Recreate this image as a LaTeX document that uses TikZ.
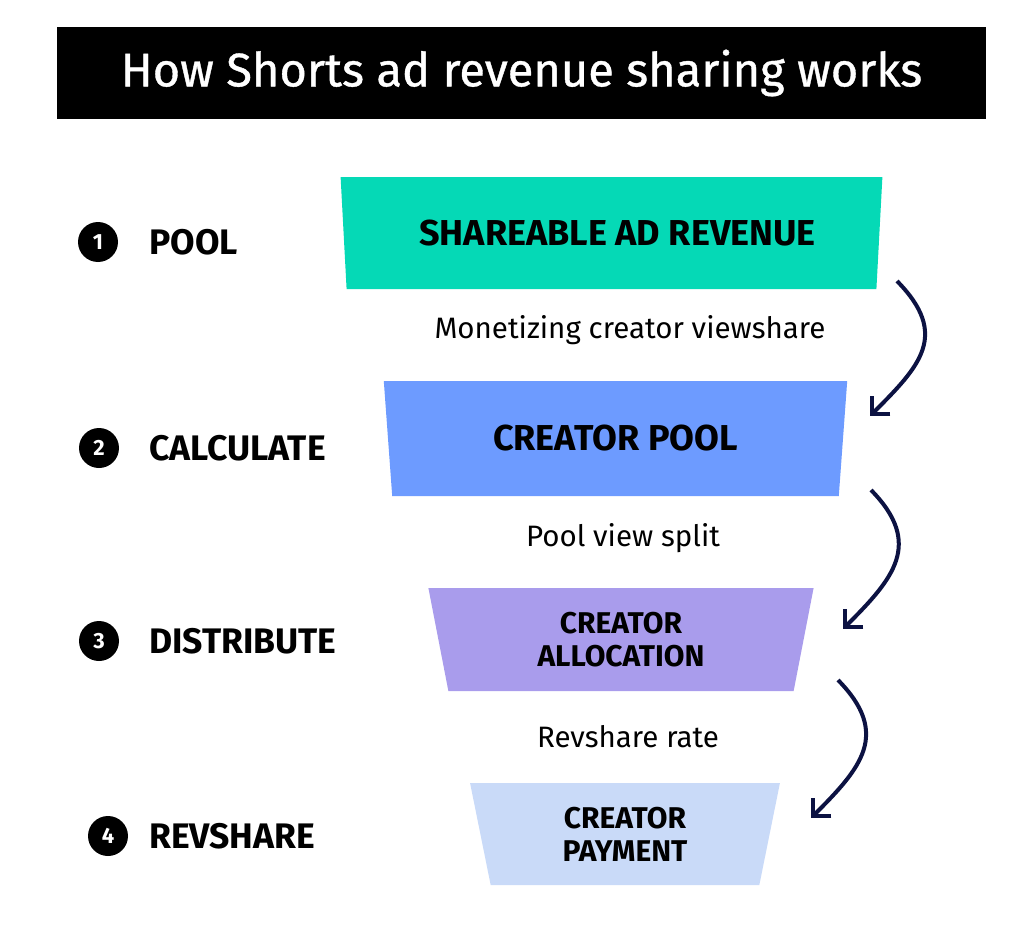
\documentclass[tikz,border=0pt]{standalone}
\usepackage{fontspec}
\setmainfont{Fira Sans}
\usetikzlibrary{arrows.meta,shapes.geometric}
\definecolor{poolteal}{HTML}{05D9B6}
\definecolor{calcblue}{HTML}{6D9BFF}
\definecolor{distpurple}{HTML}{A99CEC}
\definecolor{paylight}{HTML}{C9DAF8}
\definecolor{arrownavy}{HTML}{0C1242}

\begin{document}
\begin{tikzpicture}[x=1pt,y=-1pt,
  num circle/.style={circle,fill=black,text=white,minimum size=40pt,inner sep=0pt,font=\bfseries\fontsize{22}{22}\selectfont},
  stage label/.style={anchor=west,inner sep=0pt,font=\bfseries\fontsize{35.5}{35.5}\selectfont},
  funnel/.style={trapezium,shape border rotate=180,trapezium angle=80,trapezium stretches=true,inner sep=0pt,outer sep=0pt,align=center,font=\bfseries\fontsize{36}{36}\selectfont},
  small funnel/.style={funnel,font=\bfseries\fontsize{30}{33}\selectfont},
  rate label/.style={font=\fontsize{29.5}{29.5}\selectfont},
  flow/.style={-{Straight Barb[length=13pt,width=26pt]},line width=4pt,draw=arrownavy}]
  \useasboundingbox (0,0) rectangle (1026,934);

  \node[fill=black,text=white,minimum width=929pt,minimum height=92pt,inner sep=0pt,font=\fontsize{47}{47}\selectfont\addfontfeature{FakeBold=0.8}] (title) at (521.5,73) {How Shorts ad revenue sharing works};

  % funnel
  \node[funnel,fill=poolteal,minimum width=545pt,minimum height=112pt] (pool) at (611.5,233) {\hspace*{12pt}SHAREABLE AD REVENUE};
  \node[funnel,fill=calcblue,minimum width=465pt,minimum height=115pt] (calc) at (615.5,438.5) {CREATOR POOL};
  \node[small funnel,fill=distpurple,minimum width=386pt,minimum height=103pt] (dist) at (621,639.5) {CREATOR\\ALLOCATION};
  \node[small funnel,fill=paylight,minimum width=310pt,minimum height=102pt] (pay) at (625,834) {CREATOR\\PAYMENT};

  \node[rate label] (r1) at (630,330) {Monetizing creator viewshare};
  \node[rate label] (r2) at (623,538) {Pool view split};
  \node[rate label] (r3) at (628,737) {Revshare rate};

  % steps
  \node[num circle] (n1) at (98,242) {1};
  \node[num circle] (n2) at (99,448) {2};
  \node[num circle] (n3) at (99,641) {3};
  \node[num circle] (n4) at (108,836) {4};
  \node[stage label] (s1) at (149,242) {POOL};
  \node[stage label] (s2) at (149,448) {CALCULATE};
  \node[stage label] (s3) at (149,641) {DISTRIBUTE};
  \node[stage label] (s4) at (149,836) {REVSHARE};

  % arrows
  \coordinate (a1s) at (897,281);
  \coordinate (a1e) at (870,416);
  \coordinate (a2s) at (871,490);
  \coordinate (a2e) at (843,629);
  \coordinate (a3s) at (838,680);
  \coordinate (a3e) at (811,818);
  \draw[flow] (a1s) .. controls (950,335) and (920,366) .. (a1e);
  \draw[flow] (a2s) .. controls (924,544) and (893,579) .. (a2e);
  \draw[flow] (a3s) .. controls (891,734) and (861,768) .. (a3e);
\end{tikzpicture}
\end{document}
